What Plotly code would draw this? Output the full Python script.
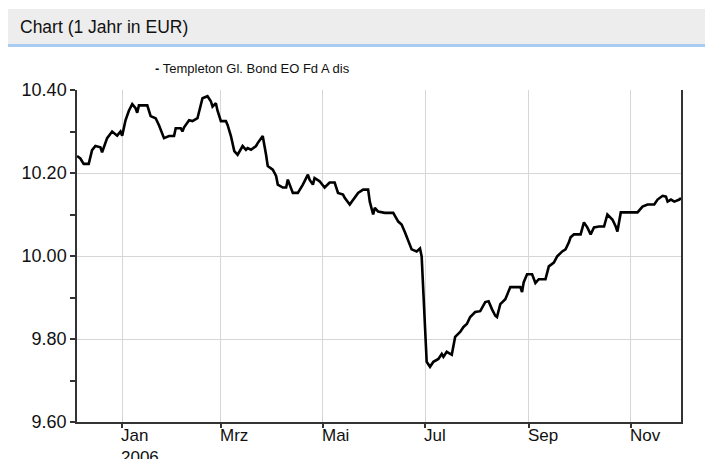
import plotly.graph_objects as go

# ---- data ----
series_name = "Templeton Gl. Bond EO Fd A dis"
chart_title = "Chart (1 Jahr in EUR)"

dates = [
    "2005-12-05", "2005-12-07", "2005-12-09", "2005-12-12", "2005-12-14", "2005-12-16",
    "2005-12-19", "2005-12-20", "2005-12-23", "2005-12-26", "2005-12-29", "2005-12-31",
    "2006-01-01", "2006-01-03", "2006-01-05", "2006-01-07", "2006-01-09", "2006-01-10",
    "2006-01-11", "2006-01-13", "2006-01-16", "2006-01-18", "2006-01-21", "2006-01-23",
    "2006-01-24", "2006-01-26", "2006-01-29",
    "2006-02-01", "2006-02-02", "2006-02-05", "2006-02-06", "2006-02-07", "2006-02-10",
    "2006-02-12", "2006-02-15", "2006-02-17", "2006-02-18", "2006-02-21", "2006-02-23",
    "2006-02-24", "2006-02-26", "2006-02-27",
    "2006-03-01", "2006-03-04", "2006-03-05", "2006-03-07", "2006-03-09", "2006-03-11",
    "2006-03-14", "2006-03-16", "2006-03-17", "2006-03-19", "2006-03-22", "2006-03-23",
    "2006-03-26", "2006-03-28", "2006-03-29",
    "2006-04-01", "2006-04-03", "2006-04-04", "2006-04-07", "2006-04-09", "2006-04-10",
    "2006-04-13", "2006-04-16", "2006-04-19", "2006-04-22", "2006-04-23", "2006-04-25",
    "2006-04-26", "2006-04-29",
    "2006-05-02", "2006-05-05", "2006-05-08", "2006-05-10", "2006-05-13", "2006-05-14",
    "2006-05-17", "2006-05-19", "2006-05-22", "2006-05-25", "2006-05-28", "2006-05-29",
    "2006-05-31",
    "2006-06-01", "2006-06-03", "2006-06-07", "2006-06-12", "2006-06-15", "2006-06-17",
    "2006-06-19", "2006-06-21", "2006-06-23", "2006-06-26", "2006-06-28", "2006-06-29",
    "2006-06-30",
    "2006-07-01", "2006-07-02", "2006-07-04", "2006-07-06", "2006-07-09", "2006-07-11",
    "2006-07-12", "2006-07-14", "2006-07-17", "2006-07-18", "2006-07-19", "2006-07-22",
    "2006-07-24", "2006-07-26", "2006-07-28", "2006-07-31",
    "2006-08-03", "2006-08-06", "2006-08-08", "2006-08-10", "2006-08-12", "2006-08-13",
    "2006-08-15", "2006-08-18", "2006-08-20", "2006-08-21", "2006-08-25", "2006-08-27",
    "2006-08-28", "2006-08-29", "2006-08-31",
    "2006-09-03", "2006-09-05", "2006-09-07", "2006-09-11", "2006-09-13", "2006-09-16",
    "2006-09-18", "2006-09-21", "2006-09-23", "2006-09-25", "2006-09-26", "2006-09-28",
    "2006-10-02", "2006-10-04", "2006-10-06", "2006-10-08", "2006-10-10", "2006-10-13",
    "2006-10-16", "2006-10-18", "2006-10-21", "2006-10-23", "2006-10-24", "2006-10-26",
    "2006-10-30",
    "2006-11-05", "2006-11-08", "2006-11-11", "2006-11-15", "2006-11-17", "2006-11-20",
    "2006-11-22", "2006-11-23", "2006-11-25", "2006-11-27", "2006-11-30",
    "2006-12-01",
]

prices = [
    10.241, 10.235, 10.222, 10.222, 10.255, 10.265,
    10.262, 10.250, 10.284, 10.300, 10.290, 10.300,
    10.290, 10.327, 10.350, 10.366, 10.356, 10.345,
    10.363, 10.363, 10.363, 10.337, 10.332, 10.315,
    10.303, 10.284, 10.289,
    10.289, 10.308, 10.308, 10.300, 10.310, 10.327,
    10.325, 10.332, 10.363, 10.380, 10.385, 10.373,
    10.360, 10.368, 10.350,
    10.325, 10.325, 10.316, 10.289, 10.253, 10.244,
    10.265, 10.256, 10.260, 10.256, 10.265, 10.272,
    10.289, 10.244, 10.217,
    10.208, 10.193, 10.172, 10.165, 10.165, 10.184,
    10.152, 10.152, 10.172, 10.196, 10.184, 10.172,
    10.188, 10.180,
    10.165, 10.177, 10.177, 10.152, 10.148, 10.140,
    10.124, 10.136, 10.152, 10.160, 10.160, 10.131,
    10.100,
    10.116, 10.107, 10.104, 10.104, 10.083, 10.076,
    10.057, 10.035, 10.016, 10.011, 10.018, 9.999,
    9.903,
    9.807, 9.745, 9.733, 9.745, 9.752, 9.764,
    9.757, 9.769, 9.762, 9.783, 9.805, 9.817,
    9.829, 9.836, 9.853, 9.865,
    9.867, 9.889, 9.891, 9.872, 9.856, 9.853,
    9.884, 9.896, 9.913, 9.925, 9.925, 9.925,
    9.913, 9.937, 9.956,
    9.956, 9.935, 9.944, 9.944, 9.975, 9.984,
    9.999, 10.011, 10.016, 10.033, 10.045, 10.052,
    10.052, 10.081, 10.069, 10.052, 10.069, 10.071,
    10.071, 10.100, 10.088, 10.071, 10.059, 10.105,
    10.105,
    10.105, 10.119, 10.124, 10.124, 10.136, 10.145,
    10.143, 10.131, 10.136, 10.131, 10.136,
    10.140,
]

x_range = ["2005-12-05", "2006-12-01"]
y_range = [9.60, 10.40]
x_tick_dates = ["2006-01-01", "2006-03-01", "2006-05-01", "2006-07-01", "2006-09-01", "2006-11-01"]
x_tick_labels = ["Jan<br>2006", "Mrz", "Mai", "Jul", "Sep", "Nov"]

FONT = "Arial, Liberation Sans, sans-serif"
AXIS_COLOR = "#333333"
GRID_COLOR = "#d6d6d6"

fig = go.Figure()
fig.add_trace(go.Scatter(
    x=dates, y=prices, mode="lines", name=series_name,
    line=dict(color="#000000", width=2.6), showlegend=False,
))

# the page body adds an 8px offset, so the figure is 8px smaller on each axis
fig.update_layout(
    width=705, height=451, autosize=False,
    margin=dict(l=69, r=32, t=82, b=37, autoexpand=False),
    paper_bgcolor="white", plot_bgcolor="white",
    font=dict(family=FONT, color="#111111"),
)

fig.update_xaxes(
    type="date", range=x_range, automargin=False,
    tickmode="array", tickvals=x_tick_dates, showticklabels=False,
    ticks="outside", ticklen=4, tickcolor=AXIS_COLOR, tickwidth=1.5,
    showgrid=True, gridcolor=GRID_COLOR, gridwidth=1,
    showline=True, linecolor=AXIS_COLOR, linewidth=1.5, mirror=False,
    zeroline=False,
)
fig.update_yaxes(
    range=y_range, automargin=False,
    tickmode="linear", tick0=9.6, dtick=0.2, tickformat=".2f",
    ticks="outside", ticklen=5, tickcolor=AXIS_COLOR, tickwidth=1.5,
    tickfont=dict(size=18, family=FONT, color="#111111"),
    minor=dict(dtick=0.1, tick0=9.6, ticks="outside", ticklen=5,
               tickcolor=AXIS_COLOR, tickwidth=1.5, showgrid=False),
    showgrid=True, gridcolor=GRID_COLOR, gridwidth=1,
    showline=True, linecolor=AXIS_COLOR, linewidth=1.5, mirror=True,
    zeroline=False,
)

# x tick labels, left-aligned at their tick like the reference
for d, lab in zip(x_tick_dates, x_tick_labels):
    fig.add_annotation(
        x=d, xref="x", y=0, yref="paper", text=lab, showarrow=False,
        xanchor="left", yanchor="top", align="left", xshift=-3, yshift=-2,
        font=dict(size=17, family=FONT, color="#111111"),
    )

# header band
fig.add_shape(type="rect", xref="paper", yref="paper",
              x0=-0.13, x1=1.06, y0=1.1386, y1=1.244,
              fillcolor="#ededed", line=dict(width=0), layer="below")
fig.add_shape(type="rect", xref="paper", yref="paper",
              x0=-0.13, x1=1.06, y0=1.1295, y1=1.1386,
              fillcolor="#a9cdf2", line=dict(width=0), layer="below")
fig.add_annotation(
    x=-0.0977, xref="paper", y=1.1898, yref="paper", text=chart_title,
    showarrow=False, xanchor="left", yanchor="middle",
    font=dict(size=17.5, family=FONT, color="#111111"),
)

# legend entry
fig.add_annotation(
    x=0.1258, xref="paper", y=1.0648, yref="paper",
    text="<b>-</b> " + series_name,
    showarrow=False, xanchor="left", yanchor="middle",
    font=dict(size=13, family=FONT, color="#111111"),
)

fig.write_html("out.html")
